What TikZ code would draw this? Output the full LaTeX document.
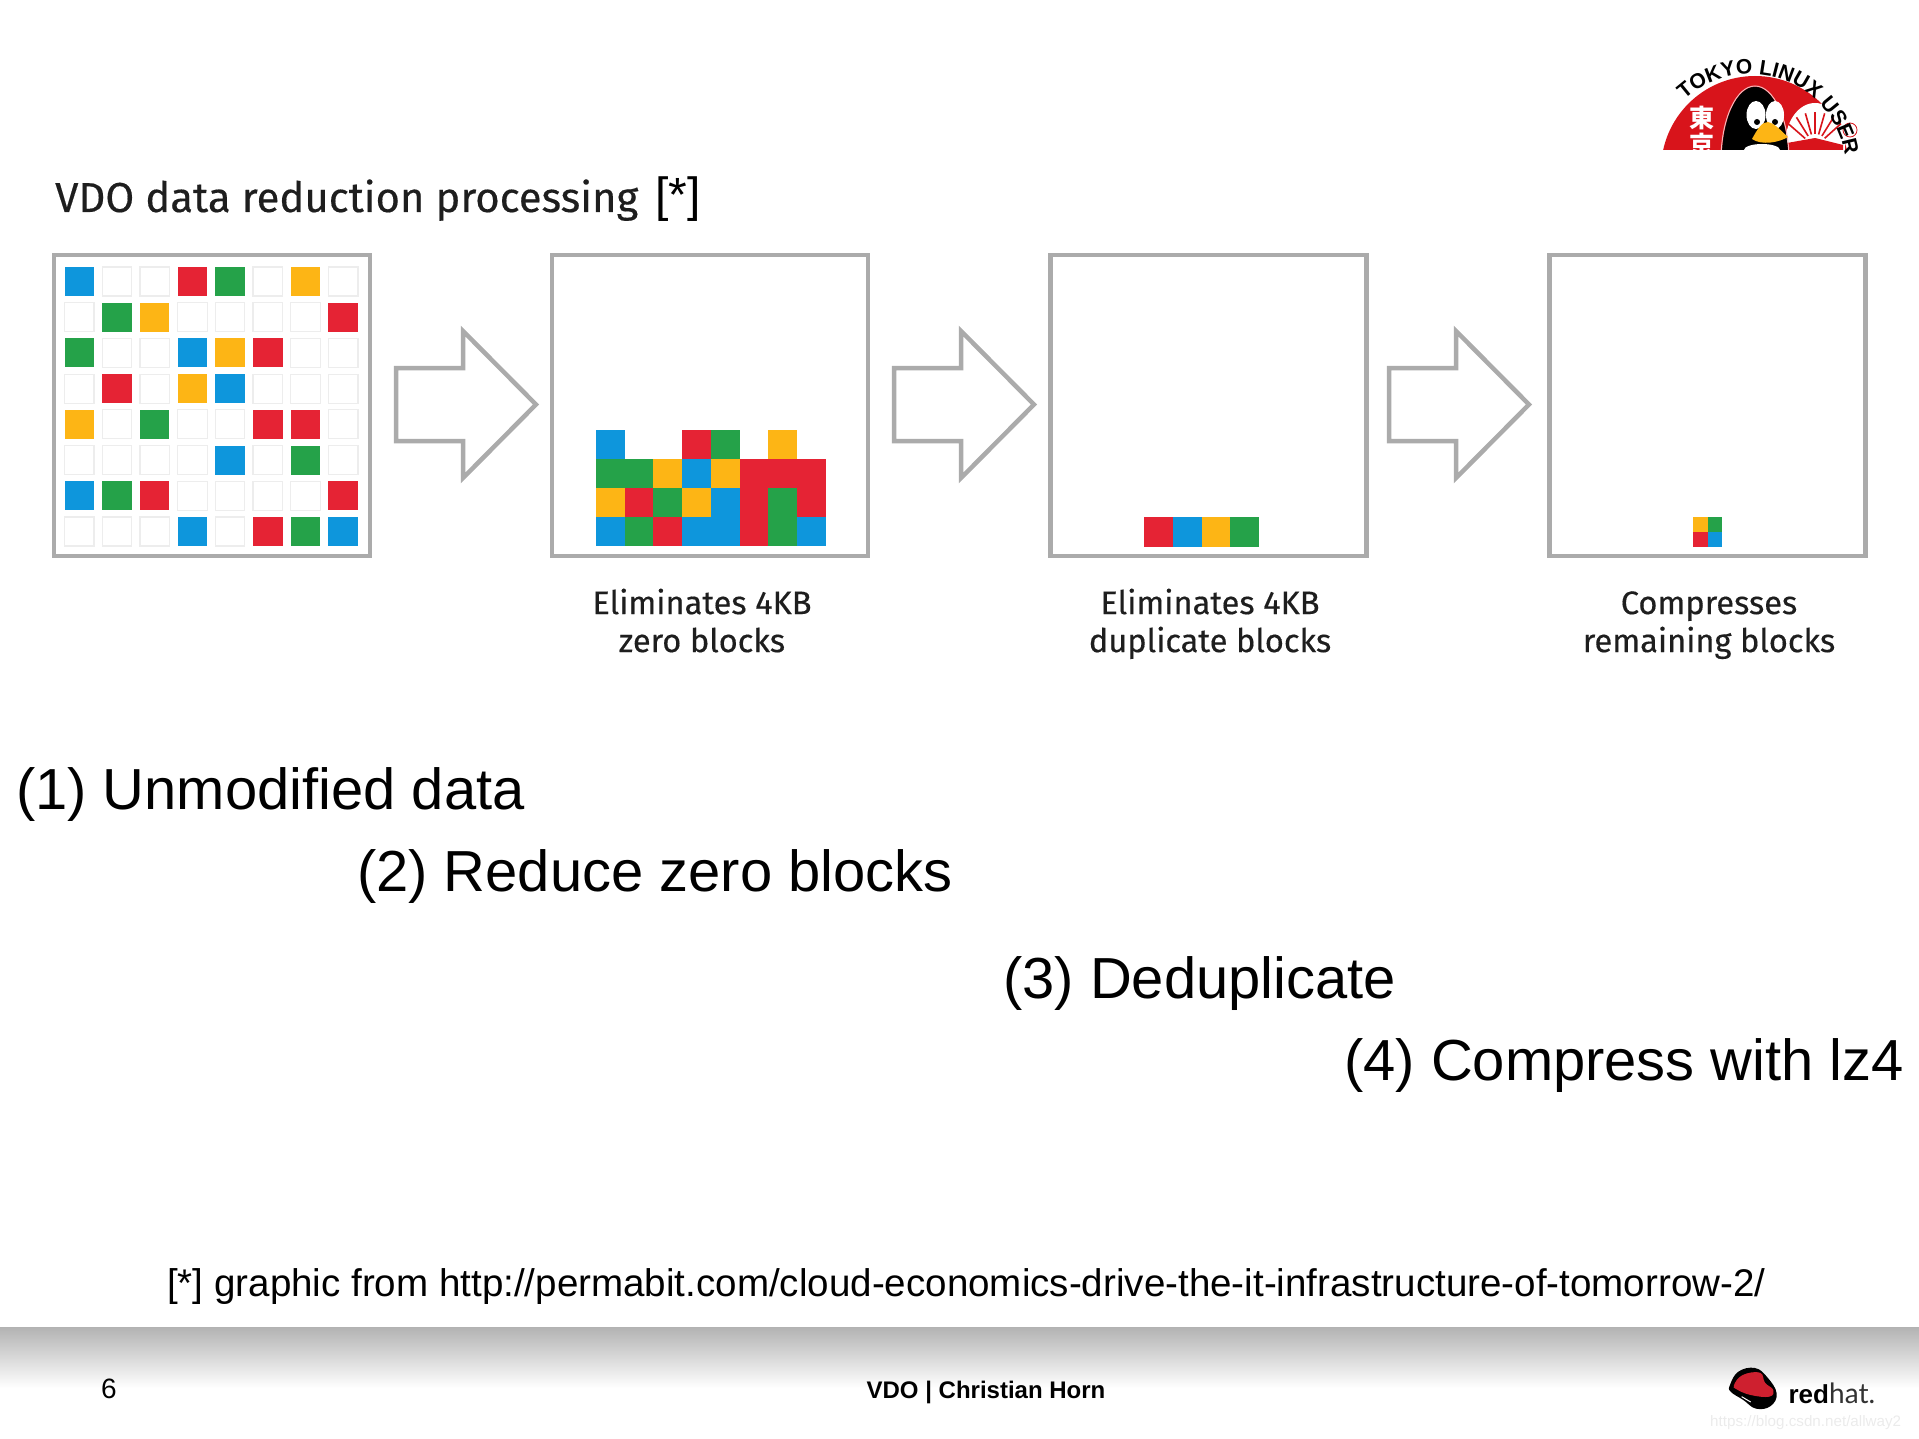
\documentclass[tikz,border=0pt]{standalone}
\usepackage{fontspec}
\setmainfont{Liberation Sans}
\newfontfamily\capfont[FakeBold=0.35]{Fira Sans}
\newfontfamily\cjk{Noto Sans CJK JP}
\newfontfamily\hatfont{Lato}
\usetikzlibrary{decorations.text}
\definecolor{bB}{HTML}{0E96DC}
\definecolor{bR}{HTML}{E52334}
\definecolor{bG}{HTML}{25A249}
\definecolor{bY}{HTML}{FDB515}
\definecolor{frame}{HTML}{ABABAB}
\definecolor{ink}{HTML}{1E1E1E}
\definecolor{logored}{HTML}{D8141B}
\tikzset{
  x=1pt,y=-1pt,
  panel/.style={draw=frame,line width=4.5pt,fill=white,rectangle,inner sep=0pt,minimum width=316pt,minimum height=301pt},
  flow/.style={draw=frame,line width=4.5pt,fill=white,miter limit=10},
  cellB/.style={fill=bB},cellR/.style={fill=bR},cellG/.style={fill=bG},cellY/.style={fill=bY},
  cellE/.style={draw=black!7,line width=1.2pt,fill=white},
  big/.style={anchor=base west,inner sep=0pt,font=\fontsize{57.9}{60}\selectfont,text=black},
  captext/.style={align=center,inner sep=0pt,text=ink,font=\capfont\fontsize{32.6}{38}\selectfont},
}
\begin{document}
\begin{tikzpicture}
\useasboundingbox (0,0) rectangle (1919,1439);
% footer band
\shade[top color=black!30,bottom color=white,draw=none] (0,1327) rectangle (1919,1388);
% title
\node[anchor=base west,inner sep=0pt,text=ink,font=\capfont\fontsize{41.8}{44}\selectfont] (title) at (55,212) {VDO data reduction processing};
\node[anchor=base west,inner sep=0pt,font=\fontsize{48}{50}\selectfont] (star) at (655,212) {[*]};
% panels
\node[panel] (p1) at (212,405.5) {};
\node[panel] (p2) at (710,405.5) {};
\node[panel] (p3) at (1208.5,405.5) {};
\node[panel] (p4) at (1707.5,405.5) {};
% block arrows
\foreach \dx/\nm in {0/a1,498/a2,993/a3}{
  \begin{scope}[xshift=\dx pt]
  \draw[flow] (396,368) -- (463,368) -- (463,331) -- (536,404.5) -- (463,478) -- (463,441) -- (396,441) -- cycle;
  \end{scope}
}
% panel 1 grid
\foreach \rowlist [count=\j from 0] in {
  {B,E,E,R,G,E,Y,E},{E,G,Y,E,E,E,E,R},{G,E,E,B,Y,R,E,E},{E,R,E,Y,B,E,E,E},
  {Y,E,G,E,E,R,R,E},{E,E,E,E,B,E,G,E},{B,G,R,E,E,E,E,R},{E,E,E,B,E,R,G,B}}{
  \foreach \c [count=\i from 0] in \rowlist {
    \path[cell\c] ({64.5+37.7*\i},{267+35.7*\j}) rectangle ++(29.5,29);
  }
}
% panel 2 stack
\foreach \rowlist [count=\j from 0] in {
  {B,N,N,R,G,N,Y,N},{G,G,Y,B,Y,R,R,R},{Y,R,G,Y,B,R,G,R},{B,G,R,B,B,R,G,B}}{
  \foreach \c [count=\i from 0] in \rowlist {
    \if\c N\else
    \path[cell\c] ({596+28.7*\i},{430+29*\j}) rectangle ++(28.9,29.2);
    \fi
  }
}
% panel 3 stack
\foreach \c [count=\i from 0] in {R,B,Y,G}{
  \path[cell\c] ({1144+28.75*\i},517.3) rectangle ++(29,29.4);
}
% panel 4 stack
\path[cellY] (1693,517.3) rectangle (1707.5,532);
\path[cellG] (1707.5,517.3) rectangle (1722,532);
\path[cellR] (1693,532) rectangle (1707.5,546.7);
\path[cellB] (1707.5,532) rectangle (1722,546.7);
% captions
\node[captext] (c2) at (702,625.5) {\strut Eliminates 4KB\\\strut zero blocks};
\node[captext] (c3) at (1210,625.5) {\strut Eliminates 4KB\\\strut duplicate blocks};
\node[captext] (c4) at (1709,625.5) {\strut Compresses\\\strut remaining blocks};
% steps
\node[big] (s1) at (16,809) {(1) Unmodified data};
\node[big] (s2) at (357,891) {(2) Reduce zero blocks};
\node[big] (s3) at (1003,998) {(3) Deduplicate};
\node[big] (s4) at (1344,1080) {(4) Compress with lz4};
% footnote
\node[anchor=base west,inner sep=0pt,font=\fontsize{38.55}{42}\selectfont] (fn) at (167,1296) {[*] graphic from http://permabit.com/cloud-economics-drive-the-it-infrastructure-of-tomorrow-2/};
% footer
\node[anchor=base west,inner sep=0pt,font=\fontsize{28}{30}\selectfont] (pg) at (101,1398) {6};
\node[anchor=base,inner sep=0pt,font=\bfseries\fontsize{24}{26}\selectfont] (au) at (986,1398) {VDO | Christian Horn};
% Tokyo Linux User logo
\begin{scope}[shift={(1750,170)},y=1pt]
  \begin{scope}
    \clip (-100,20) rectangle (125,130);
    \fill[logored] (5,0) circle[radius=94];
    % fan
    \fill[white] (65,25) ellipse[x radius=30,y radius=42];
    \foreach \a in {42,58,74,90,106,122,139}{
      \draw[logored,line width=1.6pt] (65,23)++(\a:13) -- ++(\a:22);
    }
    \fill[logored] (37,20) -- (37,27) -- (65,32) -- (93,25) -- (93,20) -- cycle;
    \draw[logored,line width=0.8pt] (100,40) circle[radius=7];
    % penguin
    \draw[black,fill=black] (5,10) ellipse[x radius=33,y radius=73];
    \draw[white!70!logored,line width=1pt] (5,10) ellipse[x radius=34,y radius=74];
    \fill[white] (6,55) ellipse[x radius=9.5,y radius=14];
    \fill[white] (25,55) ellipse[x radius=9,y radius=14];
    \fill[black] (7,48) circle[radius=3];
    \fill[black] (25,48) circle[radius=3];
    \fill[white] (12,20) ellipse[x radius=18,y radius=6];
    \fill[bY] (2,31) .. controls (8,42) and (12,48) .. (18,48) .. controls (26,46) and (32,38) .. (38,33) .. controls (30,28) and (12,24) .. (2,31) -- cycle;
    % kanji
    \node[text=white,inner sep=0pt,font=\cjk\bfseries\fontsize{25}{25}\selectfont] (k1) at (-48,52) {東};
    \node[text=white,inner sep=0pt,font=\cjk\bfseries\fontsize{25}{25}\selectfont] (k2) at (-48,25) {京};
  \end{scope}
  \path[postaction={decorate,decoration={text along path,text align={left},
     text={|\bfseries\fontsize{21}{21}\selectfont|TOKYO LINUX USER}}}]
     (133:96) arc[start angle=133,end angle=9,radius=96];
\end{scope}
% Red Hat logo
\begin{scope}[shift={(1680,1340)},x=0.3333pt,y=-0.3333pt]
  \fill[black] plot[smooth cycle,tension=0.7] coordinates {(150,135) (175,95) (225,84) (262,112) (290,160) (272,198) (228,206) (190,180) (152,155)};
  \fill[bR!90!black] plot[smooth cycle,tension=0.7] coordinates {(162,135) (188,105) (240,98) (255,128) (280,150) (268,170) (212,165) (170,148)};
  \draw[white,line width=1pt] (185,170) -- (212,186);
  \node[anchor=base west,inner sep=0pt,text=black,font=\bfseries\fontsize{26}{26}\selectfont] (rh) at (325,190) {red};
  \node[anchor=base west,inner sep=0pt,text=black!80,font=\hatfont\fontsize{28}{28}\selectfont] (hat) at (447,190) {hat.};
  \node[anchor=base west,inner sep=0pt,text=black!8,font=\fontsize{15.2}{16}\selectfont] (wm) at (90,258) {https://blog.csdn.net/allway2};
\end{scope}
\end{tikzpicture}
\end{document}
